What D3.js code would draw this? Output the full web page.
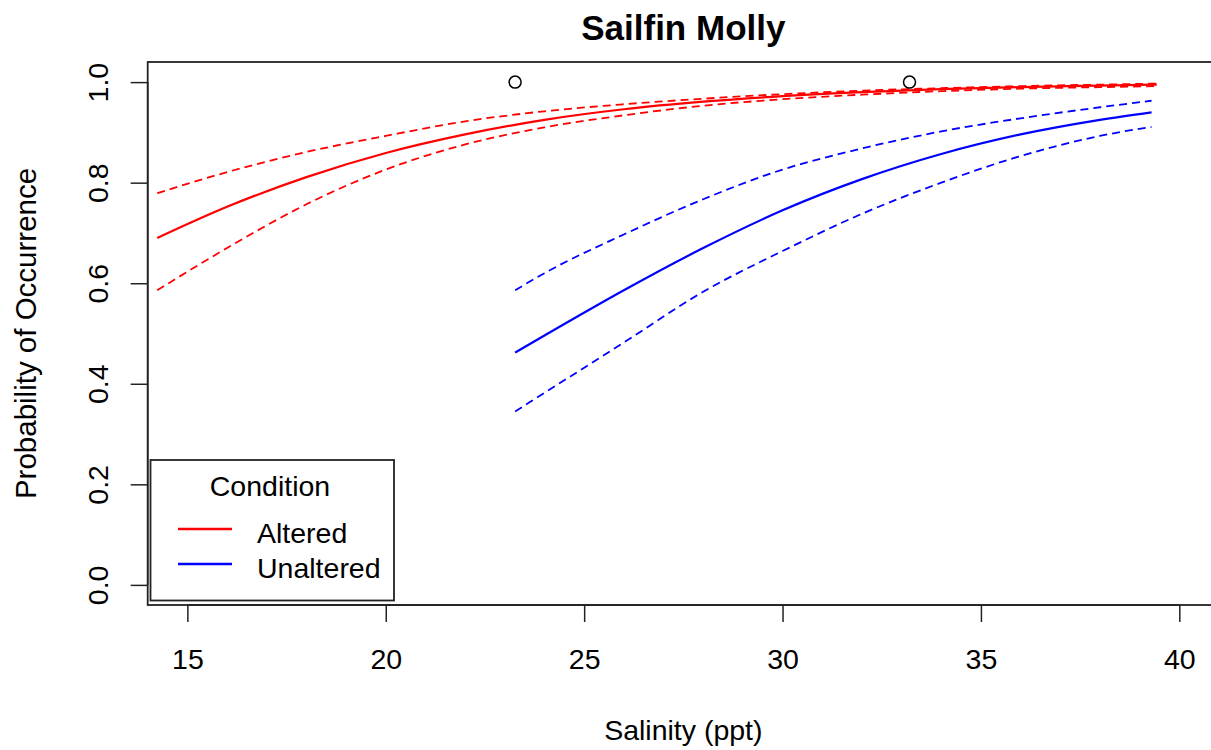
<!DOCTYPE html>
<html>
<head>
<meta charset="utf-8">
<script src="https://cdn.jsdelivr.net/npm/d3@7"></script>
<style>
  html, body { margin: 0; padding: 0; background: #fff; }
  svg { display: block; font-family: "Liberation Sans", Arial, sans-serif; }
</style>
</head>
<body>
<svg id="chart" width="1211" height="750"></svg>
<script>
// ---- Data ----
const salinityAltered = [14.24, 16, 18, 20, 22, 24, 26, 28, 30, 32, 34, 36, 38, 39.43];
const alteredFit      = [0.690, 0.752, 0.811, 0.859, 0.896, 0.925, 0.946, 0.961, 0.972, 0.980, 0.986, 0.990, 0.993, 0.995];
const alteredUpper    = [0.779, 0.821, 0.861, 0.893, 0.922, 0.942, 0.956, 0.967, 0.976, 0.983, 0.988, 0.992, 0.995, 0.997];
const alteredLower    = [0.586, 0.670, 0.757, 0.826, 0.876, 0.910, 0.934, 0.953, 0.966, 0.975, 0.982, 0.987, 0.990, 0.992];

const salinityUnaltered = [23.26, 24, 26, 28, 30, 32, 34, 36, 38, 39.3];
const unalteredFit      = [0.462, 0.496, 0.586, 0.670, 0.745, 0.807, 0.857, 0.896, 0.925, 0.940];
const unalteredUpper    = [0.586, 0.620, 0.697, 0.767, 0.826, 0.868, 0.902, 0.928, 0.950, 0.963];
const unalteredLower    = [0.345, 0.382, 0.482, 0.583, 0.664, 0.738, 0.800, 0.853, 0.893, 0.911];

const obsSalinity = [23.26, 33.2];
const obsPresence = [1, 1];

const xTicks = [15, 20, 25, 30, 35, 40];
const yTicks = [0.0, 0.2, 0.4, 0.6, 0.8, 1.0];
const legendLabels = ["Altered", "Unaltered"];
const legendColors = ["#ff0000", "#0000ff"];

// ---- Layout ----
const svg = d3.select("#chart");
const pL = 147.7, pR = 1219, pT = 62, pB = 605;
const x = d3.scaleLinear().domain([14, 41]).range([pL, pR]);
const y = d3.scaleLinear().domain([-0.04, 1.04]).range([pB, pT]);
const fontSize = 28.5;

// Curves
const line = d3.line().x(d => x(d[0])).y(d => y(d[1])).curve(d3.curveMonotoneX);
function drawCurve(xs, ys, color, dashed) {
  svg.append("path")
    .datum(xs.map((v, i) => [v, ys[i]]))
    .attr("d", line)
    .attr("fill", "none")
    .attr("stroke", color)
    .attr("stroke-width", dashed ? 1.8 : 2.2)
    .attr("stroke-dasharray", dashed ? "8,5" : null);
}
drawCurve(salinityAltered, alteredFit, "#ff0000", false);
drawCurve(salinityAltered, alteredUpper, "#ff0000", true);
drawCurve(salinityAltered, alteredLower, "#ff0000", true);
drawCurve(salinityUnaltered, unalteredFit, "#0000ff", false);
drawCurve(salinityUnaltered, unalteredUpper, "#0000ff", true);
drawCurve(salinityUnaltered, unalteredLower, "#0000ff", true);

// Observed points
svg.selectAll("circle.obs").data(obsSalinity).enter().append("circle")
  .attr("class", "obs")
  .attr("cx", d => x(d))
  .attr("cy", (d, i) => y(obsPresence[i]))
  .attr("r", 6)
  .attr("fill", "none")
  .attr("stroke", "#000")
  .attr("stroke-width", 1.5);

// Plot box
svg.append("rect")
  .attr("x", pL).attr("y", pT)
  .attr("width", pR - pL).attr("height", pB - pT)
  .attr("fill", "none").attr("stroke", "#222").attr("stroke-width", 1.8);

// X axis
const xAxis = d3.axisBottom(x).tickValues(xTicks).tickSize(17).tickPadding(0).tickFormat(d3.format("d"));
const gx = svg.append("g").attr("transform", `translate(0,${pB})`).call(xAxis);
gx.select(".domain").attr("d", `M${x(15)},0H${x(40)}`).attr("stroke", "#222").attr("stroke-width", 1.5);
gx.selectAll(".tick line").attr("stroke", "#222").attr("stroke-width", 1.5);
gx.selectAll(".tick text")
  .attr("y", 64).attr("dy", null)
  .attr("font-size", fontSize).attr("fill", "#000")
  .attr("font-family", "Liberation Sans, Arial, sans-serif");

// Y axis
const yAxis = d3.axisLeft(y).tickValues(yTicks).tickSize(17).tickFormat(d3.format(".1f"));
const gy = svg.append("g").attr("transform", `translate(${pL},0)`).call(yAxis);
gy.select(".domain").attr("d", `M0,${y(0)}V${y(1)}`).attr("stroke", "#222").attr("stroke-width", 1.5);
gy.selectAll(".tick line").attr("stroke", "#222").attr("stroke-width", 1.5);
gy.selectAll(".tick text")
  .attr("x", null).attr("dy", null)
  .attr("transform", "translate(-40,0) rotate(-90)")
  .attr("text-anchor", "middle")
  .attr("font-size", fontSize).attr("fill", "#000")
  .attr("font-family", "Liberation Sans, Arial, sans-serif");

// Titles
svg.append("text")
  .attr("x", (pL + pR) / 2).attr("y", 40)
  .attr("text-anchor", "middle").attr("font-weight", "bold")
  .attr("font-size", 35).attr("fill", "#000")
  .text("Sailfin Molly");
svg.append("text")
  .attr("x", (pL + pR) / 2).attr("y", 740)
  .attr("text-anchor", "middle")
  .attr("font-size", fontSize).attr("fill", "#000")
  .text("Salinity (ppt)");
svg.append("text")
  .attr("transform", `translate(36,${(pT + pB) / 2}) rotate(-90)`)
  .attr("text-anchor", "middle")
  .attr("font-size", 29.5).attr("fill", "#000")
  .text("Probability of Occurrence");

// Legend
const lg = svg.append("g");
lg.append("rect")
  .attr("x", 150.5).attr("y", 460).attr("width", 243.5).attr("height", 140.5)
  .attr("fill", "#fff").attr("stroke", "#222").attr("stroke-width", 1.8);
lg.append("text")
  .attr("x", 270).attr("y", 496)
  .attr("text-anchor", "middle")
  .attr("font-size", fontSize).attr("fill", "#000")
  .text("Condition");
legendLabels.forEach((lab, i) => {
  const ly = 529 + i * 35;
  lg.append("line")
    .attr("x1", 178).attr("x2", 232).attr("y1", ly).attr("y2", ly)
    .attr("stroke", legendColors[i]).attr("stroke-width", 2.5);
  lg.append("text")
    .attr("x", 257).attr("y", ly + 14)
    .attr("font-size", fontSize).attr("fill", "#000")
    .text(lab);
});
</script>
</body>
</html>
